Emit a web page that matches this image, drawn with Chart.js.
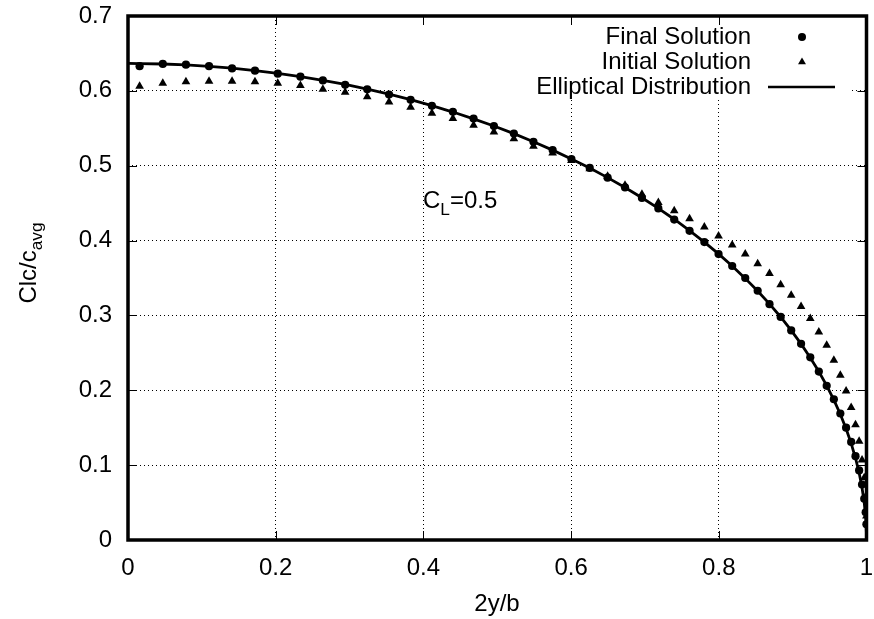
<!DOCTYPE html>
<html>
<head>
<meta charset="utf-8">
<script src="https://cdn.jsdelivr.net/npm/chart.js@4/dist/chart.umd.min.js"></script>
<style>
html,body{margin:0;padding:0;background:#fff;}
#wrap{width:874px;height:619px;}
</style>
</head>
<body>
<div id="wrap"><canvas id="c" width="874" height="619"></canvas></div>
<script>
// ---- data ----
const stationX = [0.01571, 0.04711, 0.07846, 0.10973, 0.14090, 0.17193, 0.20279, 0.23345, 0.26387, 0.29404,
  0.32392, 0.35347, 0.38268, 0.41151, 0.43994, 0.46793, 0.49546, 0.52250, 0.54902, 0.57501,
  0.60042, 0.62524, 0.64945, 0.67301, 0.69591, 0.71813, 0.73963, 0.76041, 0.78043, 0.79968,
  0.81815, 0.83581, 0.85264, 0.86863, 0.88377, 0.89803, 0.91140, 0.92388, 0.93544, 0.94609,
  0.95579, 0.96456, 0.97237, 0.97922, 0.98511, 0.99002, 0.99396, 0.99692, 0.99889, 0.99988];
const finalY = [0.633, 0.636, 0.635, 0.633, 0.630, 0.627, 0.623, 0.619, 0.614, 0.608,
  0.602, 0.595, 0.588, 0.580, 0.572, 0.563, 0.553, 0.543, 0.532, 0.521,
  0.509, 0.497, 0.484, 0.471, 0.457, 0.443, 0.428, 0.413, 0.398, 0.382,
  0.366, 0.350, 0.333, 0.315, 0.298, 0.280, 0.262, 0.244, 0.225, 0.206,
  0.188, 0.169, 0.150, 0.131, 0.112, 0.093, 0.074, 0.055, 0.037, 0.021];
const initialY = [0.606, 0.610, 0.612, 0.613, 0.613, 0.612, 0.610, 0.607, 0.602, 0.598,
  0.592, 0.585, 0.578, 0.570, 0.563, 0.554, 0.545, 0.536, 0.526, 0.517,
  0.507, 0.496, 0.486, 0.474, 0.462, 0.451, 0.440, 0.429, 0.418, 0.406,
  0.394, 0.382, 0.369, 0.356, 0.341, 0.327, 0.312, 0.296, 0.278, 0.260,
  0.240, 0.220, 0.199, 0.177, 0.154, 0.132, 0.107, 0.083, 0.058, 0.032];
const ellipseX = [0, 0.01571, 0.04711, 0.07846, 0.10973, 0.14090, 0.17193, 0.20279, 0.23345, 0.26387, 0.29404,
  0.32392, 0.35347, 0.38268, 0.41151, 0.43994, 0.46793, 0.49546, 0.52250, 0.54902, 0.57501,
  0.60042, 0.62524, 0.64945, 0.67301, 0.69591, 0.71813, 0.73963, 0.76041, 0.78043, 0.79968,
  0.81815, 0.83581, 0.85264, 0.86863, 0.88377, 0.89803, 0.91140, 0.92388, 0.93544, 0.94609,
  0.95579, 0.96456, 0.97237, 0.97922, 0.98511, 0.99002, 0.99396, 0.99692, 0.99889, 0.99988, 1];
const ellipseY = [0.6366, 0.6365, 0.6359, 0.6347, 0.6328, 0.6303, 0.6271, 0.6234, 0.6190, 0.6140, 0.6085,
  0.6023, 0.5955, 0.5882, 0.5802, 0.5717, 0.5626, 0.5530, 0.5428, 0.5321, 0.5208,
  0.5091, 0.4968, 0.4841, 0.4709, 0.4572, 0.4430, 0.4285, 0.4134, 0.3980, 0.3822,
  0.3661, 0.3495, 0.3326, 0.3154, 0.2979, 0.2801, 0.2620, 0.2436, 0.2250, 0.2062,
  0.1872, 0.1680, 0.1486, 0.1291, 0.1095, 0.0897, 0.0699, 0.0499, 0.0300, 0.0100, 0];
const xTicks = [0, 0.2, 0.4, 0.6, 0.8, 1];
const xTickLabels = ['0', '0.2', '0.4', '0.6', '0.8', '1'];
const yTicks = [0, 0.1, 0.2, 0.3, 0.4, 0.5, 0.6, 0.7];
const yTickLabels = ['0', '0.1', '0.2', '0.3', '0.4', '0.5', '0.6', '0.7'];
const seriesNames = ['Final Solution', 'Initial Solution', 'Elliptical Distribution'];
const xTitle = '2y/b';
const yTitleMain = 'Clc/c';
const yTitleSub = 'avg';
const noteMain = 'C';
const noteSub = 'L';
const noteRest = '=0.5';

const FONT = "'Liberation Sans', Arial, sans-serif";
const FS = 24;

function pts(xa, ya) { return xa.map((x, i) => ({x: x, y: ya[i]})); }

const framePlugin = {
  id: 'frame',
  beforeDatasetsDraw(chart) {
    const ctx = chart.ctx;
    ctx.save();
    ctx.fillStyle = '#fff';
    ctx.fillRect(405, 18, 445, 82);
    ctx.restore();
  },
  afterDraw(chart) {
    const ctx = chart.ctx;
    const a = chart.chartArea;
    const xs = chart.scales.x, ys = chart.scales.y;
    ctx.save();
    // ticks (inward, mirrored)
    ctx.strokeStyle = '#000';
    ctx.lineWidth = 1;
    ctx.beginPath();
    xTicks.forEach(v => {
      const px = Math.round(xs.getPixelForValue(v)) + 0.5;
      ctx.moveTo(px, a.bottom); ctx.lineTo(px, a.bottom - 9);
      ctx.moveTo(px, a.top); ctx.lineTo(px, a.top + 9);
    });
    yTicks.forEach(v => {
      const py = Math.round(ys.getPixelForValue(v)) + 0.5;
      ctx.moveTo(a.left, py); ctx.lineTo(a.left + 9, py);
      ctx.moveTo(a.right, py); ctx.lineTo(a.right - 9, py);
    });
    ctx.stroke();
    // border box
    ctx.lineWidth = 3.5;
    ctx.strokeRect(a.left, a.top, a.right - a.left, a.bottom - a.top);

    // legend
    ctx.fillStyle = '#000';
    ctx.font = FS + 'px ' + FONT;
    ctx.textAlign = 'right';
    ctx.textBaseline = 'middle';
    const rows = [37, 62, 87];
    seriesNames.forEach((n, i) => ctx.fillText(n, 751, rows[i]));
    ctx.beginPath(); ctx.arc(802, rows[0], 4, 0, Math.PI * 2); ctx.fill();
    const r = 4.6;
    ctx.beginPath();
    ctx.moveTo(802, rows[1] - r);
    ctx.lineTo(802 + r * Math.sin(2 * Math.PI / 3), rows[1] + r * 0.5);
    ctx.lineTo(802 - r * Math.sin(2 * Math.PI / 3), rows[1] + r * 0.5);
    ctx.closePath(); ctx.fill();
    ctx.lineWidth = 2.6;
    ctx.beginPath(); ctx.moveTo(768, rows[2]); ctx.lineTo(835, rows[2]); ctx.stroke();

    // x title
    ctx.textAlign = 'center';
    ctx.textBaseline = 'alphabetic';
    ctx.fillText(xTitle, 497, 611);

    // y title (rotated, with subscript)
    ctx.save();
    ctx.translate(36, 263);
    ctx.rotate(-Math.PI / 2);
    ctx.font = FS + 'px ' + FONT;
    const w1 = ctx.measureText(yTitleMain).width;
    ctx.font = (FS * 0.72) + 'px ' + FONT;
    const w2 = ctx.measureText(yTitleSub).width;
    const start = -(w1 + w2) / 2;
    ctx.textAlign = 'left';
    ctx.font = FS + 'px ' + FONT;
    ctx.fillText(yTitleMain, start, 0);
    ctx.font = (FS * 0.72) + 'px ' + FONT;
    ctx.fillText(yTitleSub, start + w1, 6);
    ctx.restore();

    // annotation C_L=0.5
    ctx.textAlign = 'left';
    ctx.font = FS + 'px ' + FONT;
    let x0 = 423;
    ctx.fillText(noteMain, x0, 208);
    x0 += ctx.measureText(noteMain).width;
    ctx.font = (FS * 0.72) + 'px ' + FONT;
    ctx.fillText(noteSub, x0, 215);
    x0 += ctx.measureText(noteSub).width;
    ctx.font = FS + 'px ' + FONT;
    ctx.fillText(noteRest, x0, 208);
    ctx.restore();
  }
};

function zeroPad(s) { s.paddingTop = 0; s.paddingBottom = 0; s.paddingLeft = 0; s.paddingRight = 0; }

new Chart(document.getElementById('c'), {
  type: 'scatter',
  data: {
    datasets: [
      { label: seriesNames[0], data: pts(stationX, finalY), pointStyle: 'circle', pointRadius: 4.1,
        backgroundColor: '#000', borderColor: '#000', borderWidth: 0, showLine: false, order: 1 },
      { label: seriesNames[1], data: pts(stationX, initialY), pointStyle: 'triangle', pointRadius: 5,
        backgroundColor: '#000', borderColor: '#000', borderWidth: 0, showLine: false, order: 2 },
      { label: seriesNames[2], data: pts(ellipseX, ellipseY), showLine: true, pointRadius: 0,
        borderColor: '#000', borderWidth: 2.8, tension: 0, fill: false, order: 3 }
    ]
  },
  options: {
    responsive: false,
    animation: false,
    devicePixelRatio: 1,
    layout: { padding: { top: 16, right: 7.5, left: 0, bottom: 0 } },
    plugins: { legend: { display: false }, tooltip: { enabled: false } },
    scales: {
      x: {
        type: 'linear', min: 0, max: 1,
        afterBuildTicks: s => { s.ticks = xTicks.map(v => ({value: v})); },
        afterFit: s => { s.height = 79; zeroPad(s); },
        ticks: { callback: (v, i) => xTickLabels[i], color: '#000', padding: 14,
                 font: { family: FONT, size: FS }, maxRotation: 0, autoSkip: false },
        grid: { color: '#000', lineWidth: 1, drawTicks: false },
        border: { display: false, dash: [1, 3] }
      },
      y: {
        type: 'linear', min: 0, max: 0.7,
        afterBuildTicks: s => { s.ticks = yTicks.map(v => ({value: v})); },
        afterFit: s => { s.width = 128; zeroPad(s); },
        ticks: { callback: (v, i) => yTickLabels[i], color: '#000', padding: 16,
                 font: { family: FONT, size: FS }, autoSkip: false },
        grid: { color: '#000', lineWidth: 1, drawTicks: false },
        border: { display: false, dash: [1, 3] }
      }
    }
  },
  plugins: [framePlugin]
});
</script>
</body>
</html>
